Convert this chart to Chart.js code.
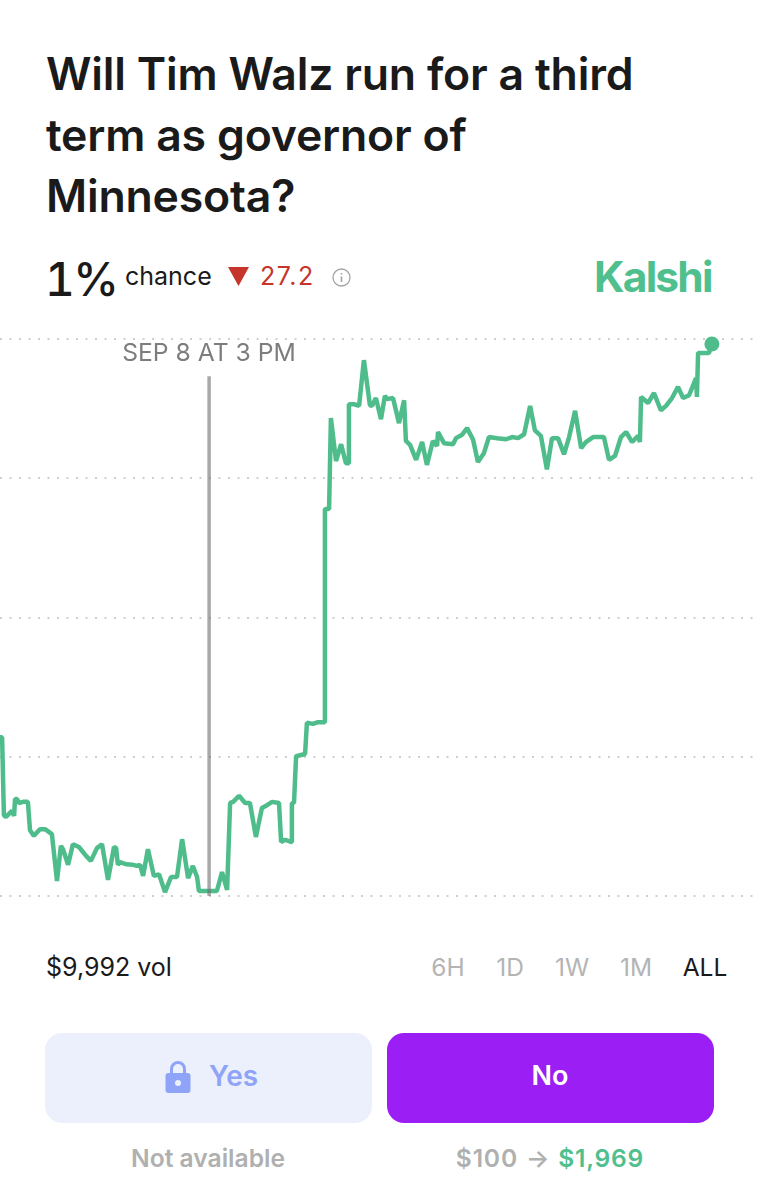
<!DOCTYPE html>
<html>
<head>
<meta charset="utf-8">
<title>Will Tim Walz run for a third term</title>
<script src="https://cdn.jsdelivr.net/npm/chart.js@4"></script>
<style>
  html, body { margin: 0; padding: 0; background: #fff; }
  body { width: 759px; height: 1200px; position: relative; overflow: hidden; font-family: Inter, sans-serif; color: #1a1a1a; }
  .t { position: absolute; white-space: nowrap; line-height: 1; }
  #title { left: 46px; top: 44px; font-size: 44.6px; font-weight: 600; line-height: 61.2px; letter-spacing: -0.2px; }
  #pct { left: 45px; top: 256px; font-size: 46px; font-weight: 500; font-feature-settings: 'tnum'; letter-spacing: -1.5px; }
  #chance { left: 125px; top: 264px; font-size: 25px; }
  #delta { left: 260px; top: 264px; font-size: 25px; color: #c5352b; letter-spacing: 1.5px; }
  #brand { left: 594px; top: 256px; font-size: 42.5px; font-weight: 700; color: #4fc08d; letter-spacing: -1.8px; }
  #chartBox { position: absolute; left: 0; top: 330px; width: 759px; height: 580px; }
  #hover { left: 209px; top: 340px; font-size: 24.7px; color: #7d7d7d; transform: translateX(-50%); }
  #vol { left: 46px; top: 955px; font-size: 25px; }
  .range { top: 955px; font-size: 24.5px; color: #b4b4b4; transform: translateX(-50%); }
  .btn { position: absolute; top: 1033px; width: 327px; height: 90px; border-radius: 17px; }
  #yesBtn { left: 45px; background: #ecf0fc; }
  #noBtn { left: 387px; background: #9b1ff5; }
  #yes { left: 209px; top: 1062px; font-size: 28px; font-weight: 600; color: #8fa4f8; }
  #no { left: 550px; top: 1062px; font-size: 27px; font-weight: 600; color: #fff; transform: translateX(-50%); }
  .sub { top: 1146px; font-size: 24.6px; font-weight: 600; color: #b0b0b0; transform: translateX(-50%); }
  svg { position: absolute; }
</style>
</head>
<body>
<div class="t" id="title">Will Tim Walz run for a third<br>term as governor of<br>Minnesota?</div>
<div class="t" id="pct">1%</div>
<div class="t" id="chance">chance</div>
<svg style="left:228px;top:267px" width="21" height="19"><path d="M0 0H21L10.5 19Z" fill="#c5352b"/></svg>
<div class="t" id="delta">27.2</div>
<svg style="left:332px;top:268px" width="19" height="19" fill="none" stroke="#a3a3a3">
  <circle cx="9.5" cy="9.5" r="8.5" stroke-width="1.3"/>
  <path d="M9.5 8.5V14" stroke-width="1.6"/>
  <path d="M9.5 5V6.5" stroke-width="1.6"/>
</svg>
<div class="t" id="brand">Kalshi</div>

<div id="chartBox"><canvas id="priceChart"></canvas></div>
<div class="t" id="hover">SEP 8 AT 3 PM</div>

<div class="t" id="vol">$9,992 vol</div>
<div class="t range" style="left:448px">6H</div>
<div class="t range" style="left:510px">1D</div>
<div class="t range" style="left:572px">1W</div>
<div class="t range" style="left:636px">1M</div>
<div class="t range" style="left:705px;color:#1a1a1a">ALL</div>

<div class="btn" id="yesBtn"></div>
<div class="btn" id="noBtn"></div>
<svg style="left:165px;top:1060px" width="26" height="34">
  <path d="M6.5 15V9a6.5 6.5 0 0 1 13 0v6" fill="none" stroke="#8fa4f8" stroke-width="3"/>
  <rect x="0.5" y="13" width="25" height="20" rx="3" fill="#8fa4f8"/>
  <circle cx="13" cy="23" r="3" fill="#ecf0fc"/>
</svg>
<div class="t" id="yes">Yes</div>
<div class="t" id="no">No</div>
<div class="t sub" style="left:208px">Not available</div>
<div class="t sub" style="left:550px;word-spacing:1px;letter-spacing:0.8px">$100 → <span style="color:#4fc08d">$1,969</span></div>

<script>
// no axis labels in the source, values are on a 0-100 relative scale
const hours = [
  0, 0.7, 1.3, 2, 4, 4.7, 5, 5.7, 6.3, 7.7, 9.3, 10, 11.3, 13.3, 15, 17.3, 19, 20.3, 21, 22.7,
  24.3, 26.3, 28.7, 30.3, 32.3, 34, 36, 38, 38.7, 39.3, 40, 42, 44.3, 45.7, 46.7, 47.7, 49.3, 51.3, 53, 55,
  57, 59, 60.7, 62.7, 64.3, 65.7, 66.3, 72.3, 74, 75.7, 76.7, 77.7, 79.7, 81.7, 83.3, 85.3, 87.3, 89, 90.7, 93,
  93.7, 95, 97, 97.3, 98, 98.7, 101.7, 102.3, 104.3, 106, 108, 108.3, 109.7, 110.3, 112, 113.7, 115.3, 116, 116.3, 118,
  119.7, 121.3, 123.3, 124, 125.3, 127, 128.3, 129, 131, 133, 134.7, 135.3, 136.7, 138.7, 140.7, 142.3, 144.3, 145.7, 146, 148,
  151, 152, 154, 155.7, 157.7, 159.3, 161.3, 163, 165.7, 168.7, 170.7, 172.7, 174.7, 176.7, 178.3, 180.3, 182.3, 184, 186, 188,
  189.7, 191.7, 193.7, 195.3, 197.7, 201.3, 203, 205, 207, 208.7, 210.7, 212.7, 213.3, 213.7, 216, 218, 220.3, 222, 224, 226,
  227.7, 229.7, 232, 232.3, 232.7, 236.3, 237.3
];
const prices = [
  28.5, 28.5, 14.5, 14.2, 15.3, 14.4, 17.4, 17.4, 16.7, 16.9, 16.9, 11.8, 10.8, 12.0, 12.0, 11.1, 2.7, 9.0, 8.4, 5.6,
  9.3, 8.8, 7.2, 6.3, 8.6, 9.3, 2.9, 8.8, 8.6, 5.6, 6.1, 5.7, 5.6, 5.4, 5.6, 3.6, 8.4, 3.6, 3.9, 0.7,
  3.4, 3.4, 10.2, 3.2, 5.4, 3.4, 0.9, 0.9, 4.3, 1.1, 16.7, 16.9, 18.0, 16.7, 16.7, 10.6, 15.8, 16.3, 16.9, 16.7,
  9.7, 10.1, 9.7, 16.7, 16.7, 25.1, 25.5, 31.1, 30.9, 31.2, 31.2, 69.5, 69.5, 85.8, 78.1, 81.1, 77.7, 77.7, 88.3, 88.3,
  88.0, 96.2, 88.1, 88.0, 89.4, 85.6, 89.8, 89.2, 89.4, 84.9, 89.0, 81.7, 81.0, 78.3, 81.5, 77.4, 81.7, 80.8, 83.3, 81.3,
  81.1, 82.2, 82.8, 84.0, 81.9, 77.9, 79.5, 82.4, 82.2, 82.0, 82.4, 82.2, 82.9, 88.0, 83.6, 82.6, 76.6, 82.2, 82.2, 79.3,
  82.4, 87.1, 80.4, 81.5, 82.4, 82.4, 78.3, 79.0, 82.4, 83.3, 81.5, 82.6, 81.5, 89.6, 88.5, 90.3, 87.2, 88.0, 89.4, 91.4,
  89.4, 89.9, 93.0, 89.6, 97.5, 97.5, 99.1
];
const yTicks = [0, 25, 50, 75, 100];
const hoverHour = 69.7;
const hoverTop = 93.3;

const GREEN = '#4fbd8b';

const linePoints = hours.map((h, i) => ({ x: h, y: prices[i] }));
const lastPoint = linePoints[linePoints.length - 1];

new Chart(document.getElementById('priceChart').getContext('2d'), {
  type: 'line',
  data: {
    datasets: [
      {
        label: 'hover',
        data: [{ x: hoverHour, y: yTicks[0] }, { x: hoverHour, y: hoverTop }],
        borderColor: 'rgba(110, 110, 110, 0.6)',
        borderWidth: 3.5,
        pointRadius: 0
      },
      {
        label: 'latest',
        data: [lastPoint],
        clip: false,
        pointRadius: 7.5,
        pointBackgroundColor: GREEN,
        pointBorderWidth: 0,
        showLine: false
      },
      {
        label: 'price',
        data: linePoints,
        clip: false,
        borderColor: GREEN,
        borderWidth: 4.5,
        borderJoinStyle: 'bevel',
        borderCapStyle: 'butt',
        tension: 0,
        pointRadius: 0
      }
    ]
  },
  options: {
    responsive: true,
    maintainAspectRatio: false,
    animation: false,
    layout: { autoPadding: false, padding: { top: 9, bottom: 14 } },
    plugins: { legend: { display: false }, tooltip: { enabled: false } },
    scales: {
      x: { type: 'linear', min: 0, max: 253, display: false },
      y: {
        min: 0,
        max: 100,
        afterBuildTicks: axis => { axis.ticks = yTicks.map(v => ({ value: v })); },
        ticks: { display: false },
        border: { display: false, dash: [2, 7.5] },
        grid: {
          color: '#cfcfcf',
          lineWidth: 2,
          drawTicks: false
        }
      }
    }
  }
});
</script>
</body>
</html>
